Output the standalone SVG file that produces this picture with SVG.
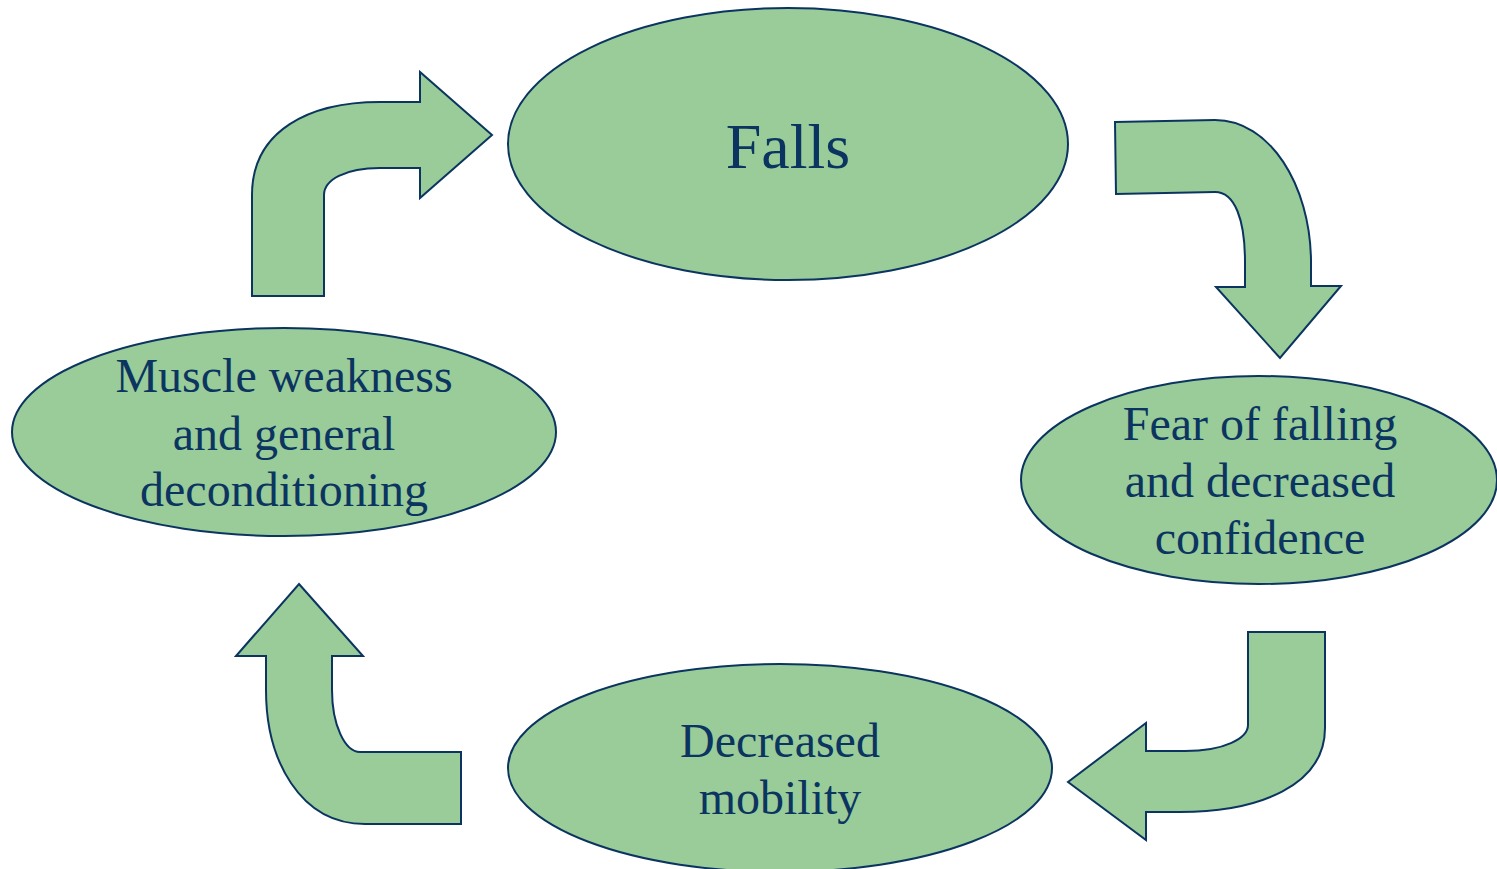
<svg xmlns="http://www.w3.org/2000/svg" width="1497" height="869" viewBox="0 0 1497 869">
<style>
.shape{fill:#99CC99;stroke:#0B3560;stroke-width:2}
.t{font-family:"Liberation Serif","Times New Roman",serif;fill:#0B3560;text-anchor:middle;font-size:48px}
</style>
<rect width="1497" height="869" fill="#ffffff"/>
<g id="connectors">
<path class="shape" d="M252,296 L252,195 C252,130 310,102 380,102 L420,102 L420,72 L492,135 L420,198 L420,168 L380,168 C345,168 324,180 324,195 L324,296 Z"/>
<path class="shape" d="M1115,122 L1215,120 C1270,120 1310,185 1311,260 L1311,286 L1341,286 L1280,358 L1216,287 L1245,287 L1245,262 C1245,220 1235,192 1215,192 L1116,194 Z"/>
<path class="shape" d="M1248,632 L1325,632 L1325,728 C1325,785 1260,812 1180,812 L1146,812 L1146,840 L1068,782 L1146,723 L1146,751 L1185,751 C1225,751 1248,738 1248,725 Z"/>
<path class="shape" d="M299,584 L363,656 L332,656 L332,690 C332,725 345,752 360,752 L461,752 L461,824 L365,824 C300,824 266,760 266,690 L266,656 L236,656 Z"/>
</g>
<g id="falls">
<ellipse class="shape" cx="788" cy="144" rx="280" ry="136"/>
<text class="t" x="788" y="168" style="font-size:64px">Falls</text>
</g>
<g id="fear">
<ellipse class="shape" cx="1259" cy="480" rx="238" ry="104"/>
<text class="t" x="1260" y="440">Fear of falling</text>
<text class="t" x="1260" y="497">and decreased</text>
<text class="t" x="1260" y="554">confidence</text>
</g>
<g id="mobility">
<ellipse class="shape" cx="780" cy="768" rx="272" ry="104"/>
<text class="t" x="780" y="757">Decreased</text>
<text class="t" x="780" y="814">mobility</text>
</g>
<g id="muscle">
<ellipse class="shape" cx="284" cy="432" rx="272" ry="104"/>
<text class="t" x="284" y="392">Muscle weakness</text>
<text class="t" x="284" y="450">and general</text>
<text class="t" x="284" y="506">deconditioning</text>
</g>
</svg>
